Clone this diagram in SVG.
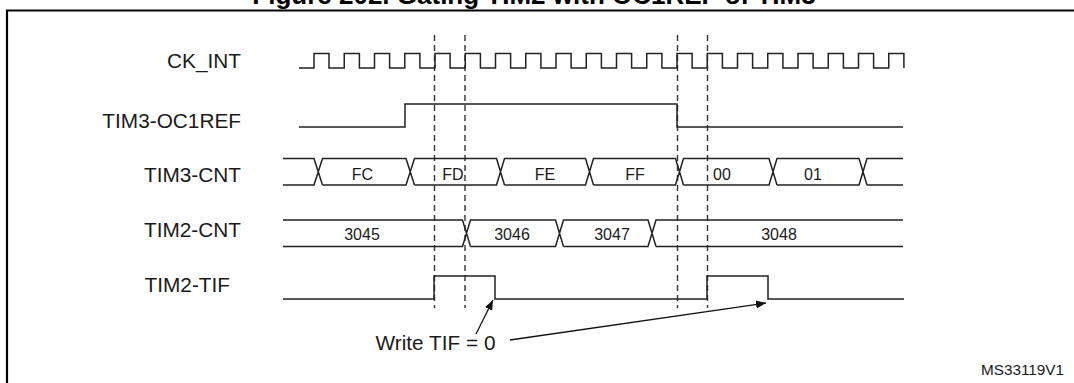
<svg xmlns="http://www.w3.org/2000/svg" width="1074" height="383" viewBox="0 0 1074 383">
<style>
.lbl{font-family:"Liberation Sans",Arial,sans-serif;font-size:20.8px;fill:#1a1a1a;text-anchor:end}
.val{font-family:"Liberation Sans",Arial,sans-serif;font-size:16px;fill:#1a1a1a;text-anchor:middle}
.wave{fill:none;stroke:#222;stroke-width:1.5;stroke-linejoin:miter}
.dash{fill:none;stroke:#333;stroke-width:1.4;stroke-dasharray:6 4}
.conn{fill:none;stroke:#111;stroke-width:1.3}
</style>
<defs>
<marker id="ah" viewBox="0 0 10 10" refX="10" refY="5" markerWidth="10" markerHeight="10" markerUnits="userSpaceOnUse" orient="auto">
<path d="M0,1 L10,5 L0,9 Z" fill="#111"/>
</marker>
</defs>
<rect width="1074" height="383" fill="#fff"/>
<text x="534" y="4" font-family="'Liberation Sans',Arial,sans-serif" font-size="26" font-weight="bold" text-anchor="middle" fill="#000">Figure 202. Gating TIM2 with OC1REF of TIM3</text>
<path d="M7,383 V10.5 H1074" fill="none" stroke="#000" stroke-width="2.2"/>
<g id="guides">
<line class="dash" x1="434.5" y1="35" x2="434.5" y2="308"/>
<line class="dash" x1="465" y1="35" x2="465" y2="308"/>
<line class="dash" x1="677.5" y1="35" x2="677.5" y2="308"/>
<line class="dash" x1="707.5" y1="35" x2="707.5" y2="308"/>
</g>
<g id="ck_int">
<text class="lbl" x="241" y="68">CK_INT</text>
<path class="wave" d="M299,68 H314 V53.5 H329 V68 H344.25 V53.5 H359.4 V68 H374.5 V53.5 H389.6 V68 H404.75 V53.5 H419.9 V68 H435 V53.5 H450.1 V68 H465.25 V53.5 H480.4 V68 H495.5 V53.5 H510.6 V68 H525.75 V53.5 H540.9 V68 H556 V53.5 H571.1 V68 H586.25 V53.5 H601.4 V68 H616.5 V53.5 H631.6 V68 H646.75 V53.5 H661.9 V68 H677 V53.5 H692.1 V68 H707.25 V53.5 H722.4 V68 H737.5 V53.5 H752.6 V68 H767.75 V53.5 H782.9 V68 H798 V53.5 H813.1 V68 H828.25 V53.5 H843.4 V68 H858.5 V53.5 H873.6 V68 H888.75 V53.5 H903.9 V68"/>
</g>
<g id="tim3_oc1ref">
<text class="lbl" x="241" y="128">TIM3-OC1REF</text>
<path class="wave" d="M299,127 H405 V104 H677 V127 H903"/>
</g>
<g id="tim3_cnt">
<text class="lbl" x="241" y="182">TIM3-CNT</text>
<path class="wave" d="M283,158.5 H314 L322.5,185 M283,185 H314 L322.5,158.5 H406 L414.5,185 M322.5,185 H406 L414.5,158.5 H496.5 L504.5,185 M414.5,185 H496.5 L504.5,158.5 H585.5 L593.5,185 M504.5,185 H585.5 L593.5,158.5 H675.5 L683.5,185 M593.5,185 H675.5 L683.5,158.5 H769 L777,185 M683.5,185 H769 L777,158.5 H859 L867,185 M777,185 H859 L867,158.5 H903 M867,185 H903"/>
<text class="val" x="362.5" y="180">FC</text>
<text class="val" x="453" y="180">FD</text>
<text class="val" x="545" y="180">FE</text>
<text class="val" x="635" y="180">FF</text>
<text class="val" x="722" y="180">00</text>
<text class="val" x="813" y="180">01</text>
</g>
<g id="tim2_cnt">
<text class="lbl" x="241" y="237">TIM2-CNT</text>
<path class="wave" d="M283,220 H462.5 L470.5,246.5 M283,246.5 H462.5 L470.5,220 H555.5 L563.5,246.5 M470.5,246.5 H555.5 L563.5,220 H648 L656,246.5 M563.5,246.5 H648 L656,220 H903 M656,246.5 H903"/>
<text class="val" x="362" y="240">3045</text>
<text class="val" x="512" y="240">3046</text>
<text class="val" x="612" y="240">3047</text>
<text class="val" x="779" y="240">3048</text>
</g>
<g id="tim2_tif">
<text class="lbl" x="230" y="292">TIM2-TIF</text>
<path class="wave" d="M283,299 H434 V276 H495 V299 H707 V276 H768 V299 H904"/>
</g>
<g id="note">
<text x="435.5" y="350" font-family="'Liberation Sans',Arial,sans-serif" font-size="20.8" text-anchor="middle" fill="#1a1a1a">Write TIF = 0</text>
</g>
<g id="connectors">
<line class="conn" x1="476" y1="334" x2="493" y2="300" marker-end="url(#ah)"/>
<line class="conn" x1="510" y1="340" x2="766" y2="303" marker-end="url(#ah)"/>
</g>
<text x="1064" y="375" font-family="'Liberation Sans',Arial,sans-serif" font-size="15.3" text-anchor="end" fill="#1a1a1a">MS33119V1</text>
</svg>
